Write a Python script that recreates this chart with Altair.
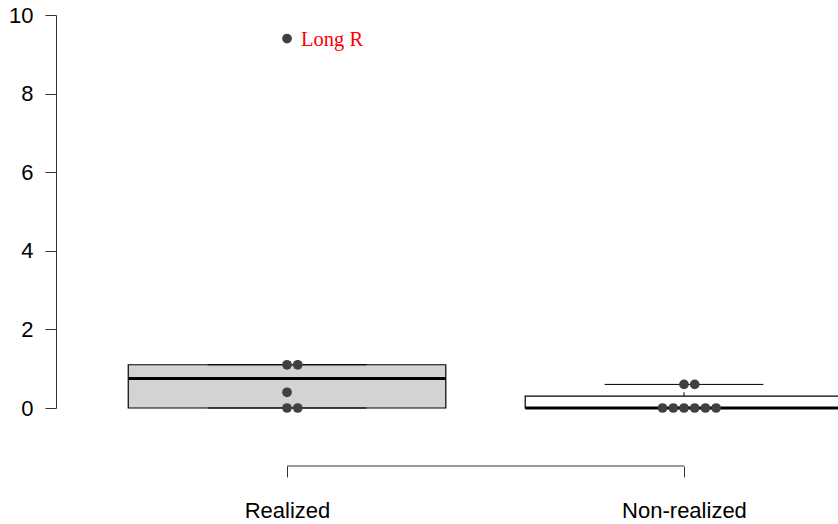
import math
import altair as alt
import pandas as pd

# Groups and observed values
groups = ["Realized", "Non-realized"]
realized = [9.4, 1.1, 1.1, 0.4, 0.0, 0.0]
non_realized = [0.6, 0.6, 0.0, 0.0, 0.0, 0.0, 0.0, 0.0]
annotations = [("Realized", 9.4, "Long R")]
y_ticks = [0, 2, 4, 6, 8, 10]

values_by_group = {"Realized": realized, "Non-realized": non_realized}
box_fill = {"Realized": "#D3D3D3", "Non-realized": "#FFFFFF"}

BOX_HALF = 0.4      # half box width in x units
STAPLE_HALF = 0.2   # half staple width
SWARM_STEP = 0.027  # spacing between stacked points


def fivenum(vals):
    x = sorted(vals)
    n = len(x)
    n4 = math.floor((n + 3) / 2) / 2
    d = [1, n4, (n + 1) / 2, n + 1 - n4, n]
    return [0.5 * (x[math.floor(k) - 1] + x[math.ceil(k) - 1]) for k in d]


box_rows, point_rows = [], []
for gi, g in enumerate(groups, start=1):
    vals = values_by_group[g]
    _, q1, med, q3, _ = fivenum(vals)
    iqr = q3 - q1
    hi = max(v for v in vals if v <= q3 + 1.5 * iqr)
    lo = min(v for v in vals if v >= q1 - 1.5 * iqr)
    box_rows.append(dict(group=g, pos=gi, left=gi - BOX_HALF, right=gi + BOX_HALF,
                         sl=gi - STAPLE_HALF, sr=gi + STAPLE_HALF,
                         q1=q1, med=med, q3=q3, lo=lo, hi=hi, fill=box_fill[g]))
    # simple swarm: points sharing a value go 0, +1, -1, +2, -2, ...
    seen = {}
    for v in vals:
        i = seen.get(v, 0)
        seen[v] = i + 1
        slot = (i + 1) // 2 if i % 2 == 1 else -(i // 2)
        label = ""
        for ag, av, at in annotations:
            if ag == g and av == v and i == 0:
                label = at
        point_rows.append(dict(group=g, x=gi + slot * SWARM_STEP, value=v, label=label))

boxes = pd.DataFrame(box_rows)
points = pd.DataFrame(point_rows)

x_scale = alt.Scale(domain=[0.418, 2.388], nice=False, zero=False)
y_scale = alt.Scale(domain=[0, 10], nice=False, zero=False)

label_expr = " : ".join(
    [f"datum.value == {i} ? '{g}'" for i, g in enumerate(groups, start=1)] + ["''"]
)

x_axis = alt.Axis(values=list(range(1, len(groups) + 1)), labelExpr=label_expr,
                  orient="bottom", offset=58, domain=False, ticks=True, tickSize=11,
                  tickColor="#333333", tickWidth=1, labelPadding=23, labelFontSize=22,
                  labelFont="Liberation Sans", labelColor="black", grid=False, title=None)
y_axis = alt.Axis(values=y_ticks, tickSize=11, tickColor="#333333", domainColor="#333333",
                  domainWidth=1, labelPadding=12, labelFontSize=22, labelFont="Liberation Sans",
                  labelColor="black", grid=False, title=None)


def X(field):
    return alt.X(field, type="quantitative", scale=x_scale, axis=x_axis)


def Y(field):
    return alt.Y(field, type="quantitative", scale=y_scale, axis=y_axis)


base_box = alt.Chart(boxes)

box = base_box.mark_rect(stroke="black", strokeWidth=1.2).encode(
    x=X("left"), x2="right", y=Y("q1"), y2="q3",
    fill=alt.Fill("fill:N", scale=None),
)

median = base_box.mark_rule(color="black", strokeWidth=3.2).encode(
    x=X("left"), x2="right", y=Y("med"),
)

whisker_up = base_box.mark_rule(color="black", strokeWidth=1, strokeDash=[4, 4]).encode(
    x=X("pos"), y=Y("q3"), y2="hi",
)
whisker_dn = base_box.mark_rule(color="black", strokeWidth=1, strokeDash=[4, 4]).encode(
    x=X("pos"), y=Y("lo"), y2="q1",
)
staple_hi = base_box.mark_rule(color="black", strokeWidth=1).encode(
    x=X("sl"), x2="sr", y=Y("hi"),
)
staple_lo = base_box.mark_rule(color="black", strokeWidth=1).encode(
    x=X("sl"), x2="sr", y=Y("lo"),
)

# bracket joining the group ticks along the bottom axis
bracket = alt.Chart(pd.DataFrame({"a": [1], "b": [len(groups)]})).mark_rule(
    color="#333333", strokeWidth=1
).encode(
    x=X("a"), x2="b", y=alt.value(451),
)

dots = alt.Chart(points).mark_circle(size=95, opacity=1, color="#404040").encode(
    x=X("x"), y=Y("value"),
)

labels = alt.Chart(points).transform_filter("datum.label != ''").mark_text(
    align="left", baseline="middle", dx=14, dy=1, fontSize=20.5,
    font="Liberation Serif", color="#FF0000"
).encode(
    x=X("x"), y=Y("value"), text="label:N",
)

chart = alt.layer(
    box, median, whisker_up, whisker_dn, staple_hi, staple_lo, bracket, dots, labels
).properties(
    width=782, height=393,
    autosize=alt.AutoSizeParams(type="none"),
    padding={"left": 56, "top": 15, "right": 0, "bottom": 116},
    background="white",
).configure_view(stroke=None)

chart.save("out.html", embed_options={"renderer": "svg", "actions": False})
